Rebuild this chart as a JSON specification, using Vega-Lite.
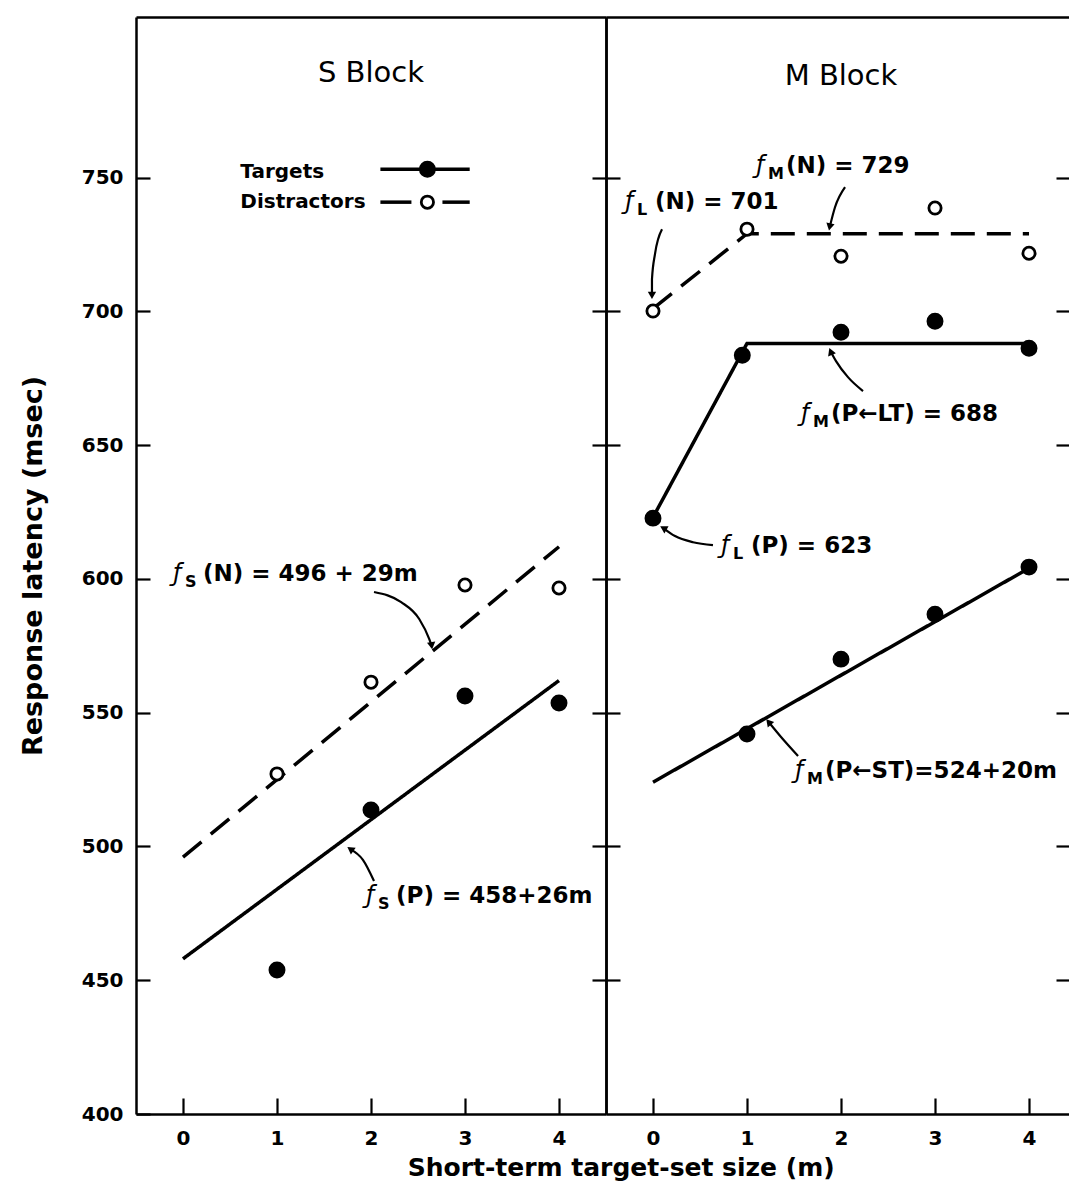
{
  "$schema": "https://vega.github.io/schema/vega-lite/v6.json",
  "autosize": {"type": "pad"},
  "padding": {"top": 17, "left": 19, "right": 0, "bottom": 0},
  "background": "white",
  "spacing": 0,
  "bounds": "flush",
  "title": {"text": "Short-term target-set size (m)", "orient": "bottom", "anchor": "middle", "fontSize": 25, "font": "DejaVu Sans", "fontWeight": "bold", "color": "black", "offset": 8, "dx": 76},
  "config": {
    "view": {"stroke": null},
    "axis": {"grid": false, "domainColor": "black", "tickColor": "black", "labelColor": "black", "titleColor": "black", "labelFont": "DejaVu Sans", "titleFont": "DejaVu Sans", "labelFontWeight": "bold", "titleFontWeight": "bold", "domainWidth": 2.5, "tickWidth": 2.2, "labelFontSize": 20, "labelFlush": false},
    "text": {"font": "DejaVu Sans", "color": "black"}
  },
  "datasets": {
    "points": [
      {"panel": "S", "type": "Targets", "m": 1, "rt": 453.8},
      {"panel": "S", "type": "Targets", "m": 2, "rt": 513.6},
      {"panel": "S", "type": "Targets", "m": 3, "rt": 556.2},
      {"panel": "S", "type": "Targets", "m": 4, "rt": 553.6},
      {"panel": "S", "type": "Distractors", "m": 1, "rt": 527.1},
      {"panel": "S", "type": "Distractors", "m": 2, "rt": 561.4},
      {"panel": "S", "type": "Distractors", "m": 3, "rt": 597.7},
      {"panel": "S", "type": "Distractors", "m": 4, "rt": 596.6},
      {"panel": "M", "type": "Distractors", "m": 0, "rt": 700.1},
      {"panel": "M", "type": "Distractors", "m": 1, "rt": 730.7},
      {"panel": "M", "type": "Distractors", "m": 2, "rt": 720.6},
      {"panel": "M", "type": "Distractors", "m": 3, "rt": 738.6},
      {"panel": "M", "type": "Distractors", "m": 4, "rt": 721.7},
      {"panel": "M", "type": "Targets", "m": 0, "rt": 622.7},
      {"panel": "M", "type": "Targets", "m": 0.95, "rt": 683.6},
      {"panel": "M", "type": "Targets", "m": 2, "rt": 692.2},
      {"panel": "M", "type": "Targets", "m": 3, "rt": 696.3},
      {"panel": "M", "type": "Targets", "m": 4, "rt": 686.2},
      {"panel": "M", "type": "Targets", "m": 1, "rt": 542},
      {"panel": "M", "type": "Targets", "m": 2, "rt": 570},
      {"panel": "M", "type": "Targets", "m": 3, "rt": 586.8},
      {"panel": "M", "type": "Targets", "m": 4, "rt": 604.4}
    ],
    "fits": [
      {"panel": "S", "series": "S-P", "type": "Targets", "m": 0, "rt": 458},
      {"panel": "S", "series": "S-P", "type": "Targets", "m": 4, "rt": 562},
      {"panel": "S", "series": "S-N", "type": "Distractors", "m": 0, "rt": 496},
      {"panel": "S", "series": "S-N", "type": "Distractors", "m": 4, "rt": 612},
      {"panel": "M", "series": "M-N", "type": "Distractors", "m": 0, "rt": 701},
      {"panel": "M", "series": "M-N", "type": "Distractors", "m": 1, "rt": 729},
      {"panel": "M", "series": "M-N", "type": "Distractors", "m": 4, "rt": 729},
      {"panel": "M", "series": "M-LT", "type": "Targets", "m": 0, "rt": 623},
      {"panel": "M", "series": "M-LT", "type": "Targets", "m": 1, "rt": 688},
      {"panel": "M", "series": "M-LT", "type": "Targets", "m": 4, "rt": 688},
      {"panel": "M", "series": "M-ST", "type": "Targets", "m": 0, "rt": 524},
      {"panel": "M", "series": "M-ST", "type": "Targets", "m": 4, "rt": 604}
    ],
    "labels": [
      {"panel": "S", "m": -0.107, "rt": 601.8, "sub": "S", "main": "(N) = 496 + 29m"},
      {"panel": "S", "m": 1.947, "rt": 481.5, "sub": "S", "main": "(P) = 458+26m"},
      {"panel": "M", "m": 1.096, "rt": 754.3, "sub": "M", "main": "(N) = 729"},
      {"panel": "M", "m": -0.298, "rt": 740.8, "sub": "L", "main": "(N) = 701"},
      {"panel": "M", "m": 1.574, "rt": 661.6, "sub": "M", "main": "(P←LT) = 688"},
      {"panel": "M", "m": 0.723, "rt": 612.3, "sub": "L", "main": "(P) = 623"},
      {"panel": "M", "m": 1.51, "rt": 528.2, "sub": "M", "main": "(P←ST)=524+20m"}
    ],
    "arrows": [
      {"panel": "S", "id": "a", "k": 1, "m": 2.032, "rt": 595.1},
      {"panel": "S", "id": "a", "k": 2, "m": 2.321, "rt": 591.3},
      {"panel": "S", "id": "a", "k": 3, "m": 2.513, "rt": 585.0},
      {"panel": "S", "id": "a", "k": 4, "m": 2.62, "rt": 577.5},
      {"panel": "S", "id": "a", "k": 5, "m": 2.645, "rt": 575},
      {"panel": "S", "id": "b", "k": 1, "m": 2.032, "rt": 487.1},
      {"panel": "S", "id": "b", "k": 2, "m": 1.914, "rt": 495.0},
      {"panel": "S", "id": "b", "k": 3, "m": 1.78, "rt": 499.0},
      {"panel": "M", "id": "c", "k": 1, "m": 2.043, "rt": 746.4},
      {"panel": "M", "id": "c", "k": 2, "m": 1.936, "rt": 738.9},
      {"panel": "M", "id": "c", "k": 3, "m": 1.88, "rt": 731.5},
      {"panel": "M", "id": "d", "k": 1, "m": 0.096, "rt": 730.7},
      {"panel": "M", "id": "d", "k": 2, "m": 0.021, "rt": 721.4},
      {"panel": "M", "id": "d", "k": 3, "m": -0.011, "rt": 712.0},
      {"panel": "M", "id": "d", "k": 4, "m": -0.011, "rt": 706},
      {"panel": "M", "id": "e", "k": 1, "m": 2.234, "rt": 670.2},
      {"panel": "M", "id": "e", "k": 2, "m": 2.074, "rt": 675.4},
      {"panel": "M", "id": "e", "k": 3, "m": 1.947, "rt": 681.4},
      {"panel": "M", "id": "e", "k": 4, "m": 1.89, "rt": 685},
      {"panel": "M", "id": "f", "k": 1, "m": 0.638, "rt": 612.6},
      {"panel": "M", "id": "f", "k": 2, "m": 0.426, "rt": 613.7},
      {"panel": "M", "id": "f", "k": 3, "m": 0.234, "rt": 616.0},
      {"panel": "M", "id": "f", "k": 4, "m": 0.11, "rt": 619},
      {"panel": "M", "id": "g", "k": 1, "m": 1.543, "rt": 533.8},
      {"panel": "M", "id": "g", "k": 2, "m": 1.362, "rt": 540.9},
      {"panel": "M", "id": "g", "k": 3, "m": 1.23, "rt": 546.5}
    ],
    "heads": [
      {"panel": "S", "m": 2.645, "rt": 575, "angle": 172},
      {"panel": "S", "m": 1.78, "rt": 499.0, "angle": 305},
      {"panel": "M", "m": 1.88, "rt": 731.5, "angle": 192},
      {"panel": "M", "m": -0.011, "rt": 706, "angle": 180},
      {"panel": "M", "m": 1.89, "rt": 685, "angle": 338},
      {"panel": "M", "m": 0.11, "rt": 619, "angle": 300},
      {"panel": "M", "m": 1.23, "rt": 546.5, "angle": 320}
    ],
    "blocks": [
      {"panel": "S", "m": 2, "rt": 789, "text": "S Block"},
      {"panel": "M", "m": 2, "rt": 788, "text": "M Block"}
    ],
    "legendText": [
      {"m": 0.61, "rt": 752, "text": "Targets"},
      {"m": 0.61, "rt": 740.8, "text": "Distractors"}
    ],
    "legendRules": [
      {"type": "Targets", "m": 2.1, "m2": 3.05, "rt": 753.1},
      {"type": "Distractors", "m": 2.1, "m2": 2.43, "rt": 740.8},
      {"type": "Distractors", "m": 2.76, "m2": 3.05, "rt": 740.8}
    ],
    "legendPoints": [
      {"type": "Targets", "m": 2.6, "rt": 753.1},
      {"type": "Distractors", "m": 2.6, "rt": 740.8}
    ]
  },
  "hconcat": [
    {
      "width": 470,
      "height": 1097,
      "resolve": {"axis": {"x": "independent", "y": "independent"}},
      "layer": [
        {
          "data": {"name": "fits"},
          "transform": [{"filter": "datum.panel == 'S'"}],
          "mark": {"type": "line", "strokeWidth": 3.5, "color": "black", "strokeCap": "butt"},
          "encoding": {
            "x": {"field": "m", "type": "quantitative", "scale": {"domain": [-0.5, 4.5], "nice": false, "zero": false}, "axis": {"orient": "bottom", "values": [0, 1, 2, 3, 4], "tickSize": -16, "labelPadding": 30, "title": null}},
            "y": {"field": "rt", "type": "quantitative", "scale": {"domain": [400, 810], "nice": false, "zero": false}, "axis": {"orient": "left", "values": [400, 450, 500, 550, 600, 650, 700, 750], "tickSize": -14, "labelPadding": 27, "title": "Response latency (msec)", "titleFontSize": 27, "titlePadding": 34}},
            "detail": {"field": "series"},
            "strokeDash": {"field": "type", "type": "nominal", "scale": {"domain": ["Targets", "Distractors"], "range": [[1, 0], [24, 12]]}, "legend": null}
          }
        },
        {
          "data": {"name": "points"},
          "transform": [{"filter": "datum.panel == 'S'"}],
          "mark": {"type": "point", "shape": "circle", "stroke": "black", "strokeWidth": 2.8, "opacity": 1},
          "encoding": {
            "x": {"field": "m", "type": "quantitative", "scale": {"domain": [-0.5, 4.5], "nice": false, "zero": false}, "axis": {"orient": "top", "ticks": false, "labels": false, "title": null}},
            "y": {"field": "rt", "type": "quantitative", "scale": {"domain": [400, 810], "nice": false, "zero": false}, "axis": {"orient": "right", "values": [450, 500, 550, 600, 650, 700, 750], "tickSize": -14, "labels": false, "title": null}},
            "fill": {"field": "type", "type": "nominal", "scale": {"domain": ["Targets", "Distractors"], "range": ["black", "white"]}, "legend": null},
            "size": {"field": "type", "type": "nominal", "scale": {"domain": ["Targets", "Distractors"], "range": [200, 150]}, "legend": null}
          }
        },
        {
          "data": {"name": "legendPoints"},
          "mark": {"type": "point", "shape": "circle", "stroke": "black", "strokeWidth": 2.8, "opacity": 1},
          "encoding": {
            "x": {"field": "m", "type": "quantitative", "axis": null},
            "y": {"field": "rt", "type": "quantitative", "axis": null},
            "fill": {"field": "type", "type": "nominal", "legend": null},
            "size": {"field": "type", "type": "nominal", "legend": null}
          }
        },
        {
          "data": {"name": "legendRules"},
          "mark": {"type": "rule", "strokeWidth": 3.5, "color": "black"},
          "encoding": {
            "x": {"field": "m", "type": "quantitative", "axis": null},
            "x2": {"field": "m2"},
            "y": {"field": "rt", "type": "quantitative", "axis": null}
          }
        },
        {
          "data": {"name": "legendText"},
          "mark": {"type": "text", "align": "left", "baseline": "middle", "fontSize": 20, "fontWeight": "bold"},
          "encoding": {
            "x": {"field": "m", "type": "quantitative", "axis": null},
            "y": {"field": "rt", "type": "quantitative", "axis": null},
            "text": {"field": "text"}
          }
        },
        {
          "data": {"name": "arrows"},
          "transform": [{"filter": "datum.panel == 'S'"}],
          "mark": {"type": "line", "strokeWidth": 2.2, "color": "black", "interpolate": "monotone"},
          "encoding": {
            "x": {"field": "m", "type": "quantitative", "axis": null},
            "y": {"field": "rt", "type": "quantitative", "axis": null},
            "detail": {"field": "id"},
            "order": {"field": "k"}
          }
        },
        {
          "data": {"name": "heads"},
          "transform": [{"filter": "datum.panel == 'S'"}],
          "mark": {"type": "point", "shape": "triangle-up", "filled": true, "color": "black", "size": 70, "opacity": 1},
          "encoding": {
            "x": {"field": "m", "type": "quantitative", "axis": null},
            "y": {"field": "rt", "type": "quantitative", "axis": null},
            "angle": {"field": "angle", "type": "quantitative", "scale": null}
          }
        },
        {
          "data": {"name": "labels"},
          "transform": [{"filter": "datum.panel == 'S'"}],
          "mark": {"type": "text", "align": "left", "baseline": "middle", "fontSize": 24, "fontStyle": "italic", "text": "ƒ"},
          "encoding": {
            "x": {"field": "m", "type": "quantitative", "axis": null},
            "y": {"field": "rt", "type": "quantitative", "axis": null}
          }
        },
        {
          "data": {"name": "labels"},
          "transform": [{"filter": "datum.panel == 'S'"}],
          "mark": {"type": "text", "align": "left", "baseline": "middle", "fontSize": 16, "fontWeight": "bold", "dx": 12, "dy": 8},
          "encoding": {
            "x": {"field": "m", "type": "quantitative", "axis": null},
            "y": {"field": "rt", "type": "quantitative", "axis": null},
            "text": {"field": "sub"}
          }
        },
        {
          "data": {"name": "labels"},
          "transform": [{"filter": "datum.panel == 'S'"}],
          "mark": {"type": "text", "align": "left", "baseline": "middle", "fontSize": 23, "fontWeight": "bold", "dx": 30},
          "encoding": {
            "x": {"field": "m", "type": "quantitative", "axis": null},
            "y": {"field": "rt", "type": "quantitative", "axis": null},
            "text": {"field": "main"}
          }
        },
        {
          "data": {"name": "blocks"},
          "transform": [{"filter": "datum.panel == 'S'"}],
          "mark": {"type": "text", "align": "center", "baseline": "middle", "fontSize": 29},
          "encoding": {
            "x": {"field": "m", "type": "quantitative", "axis": null},
            "y": {"field": "rt", "type": "quantitative", "axis": null},
            "text": {"field": "text"}
          }
        }
      ]
    },
    {
      "width": 464,
      "height": 1097,
      "resolve": {"axis": {"x": "independent", "y": "independent"}},
      "layer": [
        {
          "data": {"name": "fits"},
          "transform": [{"filter": "datum.panel == 'M'"}],
          "mark": {"type": "line", "strokeWidth": 3.5, "color": "black", "strokeCap": "butt"},
          "encoding": {
            "x": {"field": "m", "type": "quantitative", "scale": {"domain": [-0.5, 4.436], "nice": false, "zero": false}, "axis": {"orient": "bottom", "values": [0, 1, 2, 3, 4], "tickSize": -16, "labelPadding": 30, "title": null}},
            "y": {"field": "rt", "type": "quantitative", "scale": {"domain": [400, 810], "nice": false, "zero": false}, "axis": {"orient": "left", "values": [450, 500, 550, 600, 650, 700, 750], "tickSize": -14, "labels": false, "title": null}},
            "detail": {"field": "series"},
            "strokeDash": {"field": "type", "type": "nominal", "scale": {"domain": ["Targets", "Distractors"], "range": [[1, 0], [24, 12]]}, "legend": null}
          }
        },
        {
          "data": {"name": "points"},
          "transform": [{"filter": "datum.panel == 'M'"}],
          "mark": {"type": "point", "shape": "circle", "stroke": "black", "strokeWidth": 2.8, "opacity": 1},
          "encoding": {
            "x": {"field": "m", "type": "quantitative", "scale": {"domain": [-0.5, 4.436], "nice": false, "zero": false}, "axis": {"orient": "top", "ticks": false, "labels": false, "title": null}},
            "y": {"field": "rt", "type": "quantitative", "scale": {"domain": [400, 810], "nice": false, "zero": false}, "axis": {"orient": "right", "values": [450, 500, 550, 600, 650, 700, 750], "tickSize": -14, "labels": false, "domain": false, "title": null}},
            "fill": {"field": "type", "type": "nominal", "scale": {"domain": ["Targets", "Distractors"], "range": ["black", "white"]}, "legend": null},
            "size": {"field": "type", "type": "nominal", "scale": {"domain": ["Targets", "Distractors"], "range": [200, 150]}, "legend": null}
          }
        },
        {
          "data": {"name": "arrows"},
          "transform": [{"filter": "datum.panel == 'M'"}],
          "mark": {"type": "line", "strokeWidth": 2.2, "color": "black", "interpolate": "monotone"},
          "encoding": {
            "x": {"field": "m", "type": "quantitative", "axis": null},
            "y": {"field": "rt", "type": "quantitative", "axis": null},
            "detail": {"field": "id"},
            "order": {"field": "k"}
          }
        },
        {
          "data": {"name": "heads"},
          "transform": [{"filter": "datum.panel == 'M'"}],
          "mark": {"type": "point", "shape": "triangle-up", "filled": true, "color": "black", "size": 70, "opacity": 1},
          "encoding": {
            "x": {"field": "m", "type": "quantitative", "axis": null},
            "y": {"field": "rt", "type": "quantitative", "axis": null},
            "angle": {"field": "angle", "type": "quantitative", "scale": null}
          }
        },
        {
          "data": {"name": "labels"},
          "transform": [{"filter": "datum.panel == 'M'"}],
          "mark": {"type": "text", "align": "left", "baseline": "middle", "fontSize": 24, "fontStyle": "italic", "text": "ƒ"},
          "encoding": {
            "x": {"field": "m", "type": "quantitative", "axis": null},
            "y": {"field": "rt", "type": "quantitative", "axis": null}
          }
        },
        {
          "data": {"name": "labels"},
          "transform": [{"filter": "datum.panel == 'M'"}],
          "mark": {"type": "text", "align": "left", "baseline": "middle", "fontSize": 16, "fontWeight": "bold", "dx": 12, "dy": 8},
          "encoding": {
            "x": {"field": "m", "type": "quantitative", "axis": null},
            "y": {"field": "rt", "type": "quantitative", "axis": null},
            "text": {"field": "sub"}
          }
        },
        {
          "data": {"name": "labels"},
          "transform": [{"filter": "datum.panel == 'M'"}],
          "mark": {"type": "text", "align": "left", "baseline": "middle", "fontSize": 23, "fontWeight": "bold", "dx": 30},
          "encoding": {
            "x": {"field": "m", "type": "quantitative", "axis": null},
            "y": {"field": "rt", "type": "quantitative", "axis": null},
            "text": {"field": "main"}
          }
        },
        {
          "data": {"name": "blocks"},
          "transform": [{"filter": "datum.panel == 'M'"}],
          "mark": {"type": "text", "align": "center", "baseline": "middle", "fontSize": 29},
          "encoding": {
            "x": {"field": "m", "type": "quantitative", "axis": null},
            "y": {"field": "rt", "type": "quantitative", "axis": null},
            "text": {"field": "text"}
          }
        }
      ]
    }
  ]
}
